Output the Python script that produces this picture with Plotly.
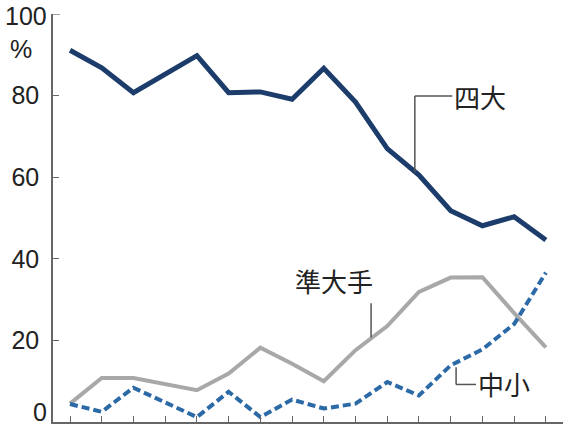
import plotly.graph_objects as go

# 16 periods, no labels on the x axis
periods = list(range(16))

# share (%)
yondai = [91.1, 86.8, 80.7, 85.2, 89.8, 80.7, 80.9, 79.1, 86.7, 78.4, 67.0, 60.5, 51.8, 48.1, 50.3, 44.6]
jun_ote = [4.5, 10.8, 10.8, 9.4, 7.8, 11.9, 18.2, 14.3, 10.0, 17.6, 23.5, 31.9, 35.4, 35.5, 26.7, 18.3]
chusho = [4.4, 2.5, 8.4, 4.9, 1.2, 7.4, 1.2, 5.5, 3.3, 4.5, 9.8, 6.5, 13.9, 17.8, 24.0, 36.6]

ytick_vals = [0, 20, 40, 60, 80, 100]
ytick_text = ["0", "20", "40", "60", "80", "100"]

num_font = "Liberation Sans Narrow, Liberation Sans, Arial, sans-serif"
jp_font = "Noto Sans CJK JP, sans-serif"
leader = dict(color="#555555", width=1.5)
lab = dict(family=num_font, size=25, color="#222222")

fig = go.Figure()
fig.add_trace(go.Scatter(x=periods, y=jun_ote, mode="lines", name="準大手",
                         line=dict(color="#a8a8a8", width=4)))
fig.add_trace(go.Scatter(x=periods, y=chusho, mode="lines", name="中小",
                         line=dict(color="#2b6aa6", width=4, dash="8px,4px")))
fig.add_trace(go.Scatter(x=periods, y=yondai, mode="lines", name="四大",
                         line=dict(color="#1c3d6b", width=5)))

# leader lines for the series labels
fig.add_shape(type="line", x0=10.87, x1=10.87, y0=61.2, y1=79.9, line=leader)
fig.add_shape(type="line", x0=10.87, x1=12.05, y0=79.9, y1=79.9, line=leader)
fig.add_shape(type="line", x0=9.49, x1=9.49, y0=20.8, y1=29.1, line=leader)
fig.add_shape(type="line", x0=12.17, x1=12.17, y0=9.2, y1=13.4, line=leader)
fig.add_shape(type="line", x0=12.17, x1=12.8, y0=9.2, y1=9.2, line=leader)

fig.add_annotation(x=12.05, y=79.9, text="四大", showarrow=False, xanchor="left",
                   yanchor="middle", font=dict(family=jp_font, size=26, color="#222222"))
fig.add_annotation(x=8.32, y=34.8, text="準大手", showarrow=False, xanchor="center",
                   yanchor="middle", font=dict(family=jp_font, size=26, color="#222222"))
fig.add_annotation(x=12.8, y=9.4, text="中小", showarrow=False, xanchor="left",
                   yanchor="middle", font=dict(family=jp_font, size=26, color="#222222"))

# unit, plus the top and bottom labels which sit off their ticks
fig.add_annotation(xref="paper", x=0, xshift=-19, xanchor="right", yref="y", y=91.4,
                   text="%", showarrow=False, font=lab)
fig.add_annotation(xref="paper", x=0, xshift=-4, xanchor="right", yref="y", y=ytick_vals[0],
                   yshift=-6, yanchor="bottom", text=ytick_text[0], showarrow=False, font=lab)
fig.add_annotation(xref="paper", x=0, xshift=-4, xanchor="right", yref="y", y=ytick_vals[-1],
                   yshift=14, yanchor="top", text=ytick_text[-1], showarrow=False, font=lab)

fig.update_xaxes(range=[-0.536, 15.54], showline=True, linecolor="#666666", linewidth=1.5,
                 ticks="inside", ticklen=6, tickcolor="#666666", tickwidth=1.2,
                 tickvals=periods, showticklabels=False, showgrid=False, zeroline=False)
fig.update_yaxes(range=[0, 100], showline=True, linecolor="#666666", linewidth=1.5,
                 ticks="inside", ticklen=6, tickcolor="#666666", tickwidth=1.2,
                 tickvals=ytick_vals[1:-1], ticktext=ytick_text[1:-1], ticklabelstandoff=7,
                 tickfont=lab, showgrid=False, zeroline=False)
# tick mark at the top of the axis (label drawn above)
fig.add_shape(type="line", xref="paper", x0=0, x1=0.0137, y0=100, y1=100,
              line=dict(color="#666666", width=1.2))

fig.update_layout(width=576, height=430, showlegend=False,
                  margin=dict(l=53, r=13, t=14, b=8, autoexpand=False),
                  paper_bgcolor="white", plot_bgcolor="white")

fig.write_html("out.html", config={"displayModeBar": False},
               post_script="document.body.style.margin='0';")
